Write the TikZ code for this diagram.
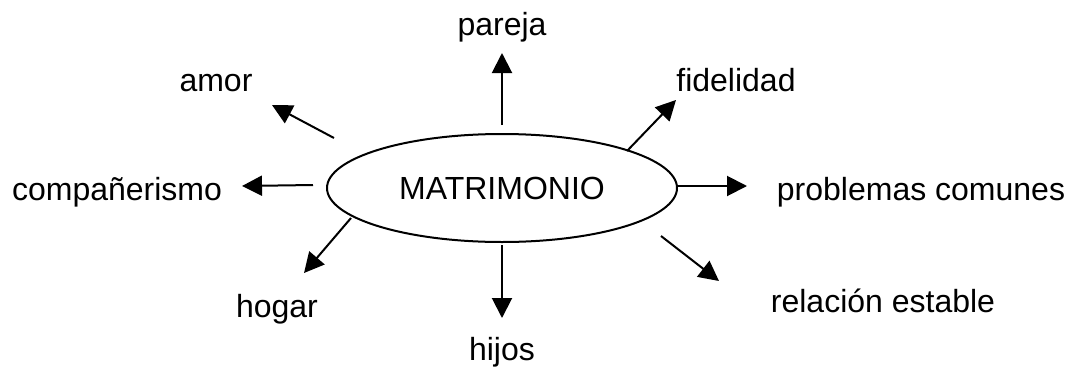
\documentclass[tikz,border=0pt]{standalone}
\usepackage{fontspec}
\setmainfont{Liberation Sans}
\usetikzlibrary{arrows.meta}
\usetikzlibrary{shapes.geometric}

\begin{document}
\begin{tikzpicture}[x=1pt,y=-1pt,
    every node/.style={font=\fontsize{32}{38}\selectfont},
    word/.style={anchor=base,inner sep=0pt},
    arr/.style={-{Triangle[length=20pt,width=20pt]},line width=2pt}]
    \useasboundingbox (0,0) rectangle (1066,370);
    %\draw[help lines] (0,0) grid[step=50] (1066,370);
    \node[ellipse,draw,line width=2pt,minimum width=350pt,minimum height=108pt,inner sep=0pt] (mat) at (502,188) {MATRIMONIO};
    \node[word] (pareja) at (502,35) {pareja};
    \node[word] (amor) at (216,91) {amor};
    \node[word] (fidel) at (736,91) {fidelidad};
    \node[word] (comp) at (117,200) {compañerismo};
    \node[word] (probl) at (921,200) {problemas comunes};
    \node[word] (hogar) at (277,317) {hogar};
    \node[word] (relac) at (883,312) {relación estable};
    \node[word] (hijos) at (502,360) {hijos};
    % free ends of the arrows
    \coordinate (s-pareja) at (502,125); \coordinate (t-pareja) at (502,53);
    \coordinate (s-amor) at (334,138);   \coordinate (t-amor) at (272,105);
    \coordinate (s-fidel) at (627,151);  \coordinate (t-fidel) at (676,100);
    \coordinate (s-comp) at (313,185);   \coordinate (t-comp) at (242,186);
    \coordinate (s-probl) at (677,186);  \coordinate (t-probl) at (747,186);
    \coordinate (s-hogar) at (351,218);  \coordinate (t-hogar) at (304,273);
    \coordinate (s-hijos) at (502,245);  \coordinate (t-hijos) at (502,318);
    \coordinate (s-relac) at (661,236);  \coordinate (t-relac) at (719,281);
    \foreach \w in {pareja,amor,fidel,comp,probl,hogar,hijos,relac}
        \draw[arr] (s-\w) -- (t-\w);
\end{tikzpicture}
\end{document}
